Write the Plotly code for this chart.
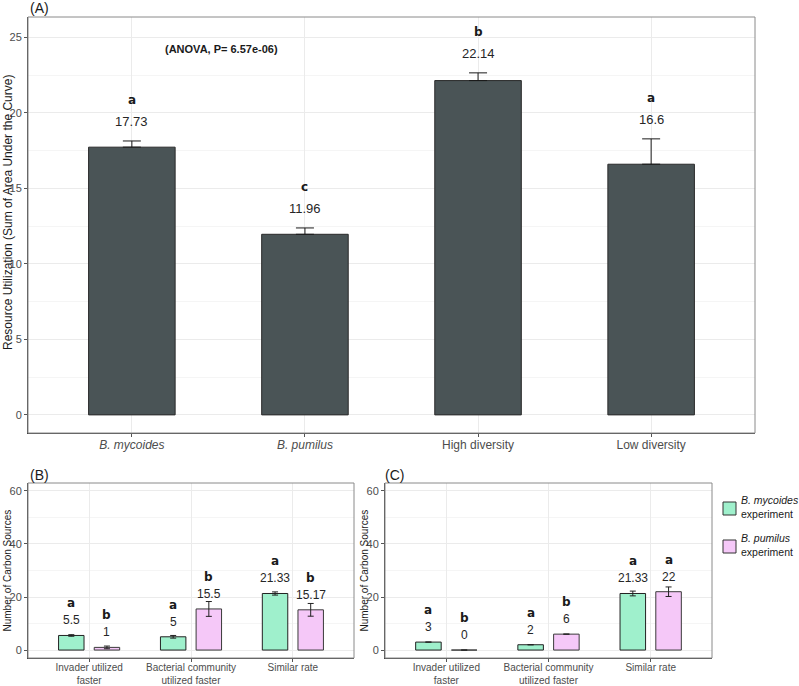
import plotly.graph_objects as go

# ---------------- data ----------------
a_cats = ["B. mycoides", "B. pumilus", "High diversity", "Low diversity"]
a_ticktext = ["<i>B. mycoides</i>", "<i>B. pumilus</i>", "High diversity", "Low diversity"]
a_means = [17.73, 11.96, 22.14, 16.6]
a_se = [0.41, 0.42, 0.51, 1.68]
a_letters = ["a", "c", "b", "a"]
a_labels = ["17.73", "11.96", "22.14", "16.6"]
anova_text = "(ANOVA, P= 6.57e-06)"

bc_cats = ["Invader utilized faster", "Bacterial community utilized faster", "Similar rate"]
bc_ticktext = ["Invader utilized<br>faster", "Bacterial community<br>utilized faster", "Similar rate"]

b_myc = [5.5, 5, 21.33]
b_myc_se = [0.3, 0.5, 0.6]
b_myc_lbl = ["5.5", "5", "21.33"]
b_myc_let = ["a", "a", "a"]
b_pum = [1, 15.5, 15.17]
b_pum_se = [0.5, 2.8, 2.4]
b_pum_lbl = ["1", "15.5", "15.17"]
b_pum_let = ["b", "b", "b"]

c_myc = [3, 2, 21.33]
c_myc_se = [0, 0, 0.9]
c_myc_lbl = ["3", "2", "21.33"]
c_myc_let = ["a", "a", "a"]
c_pum = [0, 6, 22]
c_pum_se = [0, 0, 1.8]
c_pum_lbl = ["0", "6", "22"]
c_pum_let = ["b", "b", "a"]

legend_names = ["B. mycoides", "B. pumilus"]
legend_sub = "experiment"

# ---------------- styles ----------------
W, H = 799, 686
BAR_DARK = "#4a5456"
GREEN = "#9ff0cc"
PINK = "#f5c8f8"
TICK_COL = "#4d4d4d"
GRID = "#ebebeb"
MINOR = "#f5f5f5"
FONT = "Liberation Sans, Arial, sans-serif"
BOLD_FONT = "DejaVu Sans, sans-serif"

def px_x(p):
    return p / W

def px_y(p):
    return 1 - p / H

domA_x = [px_x(28), px_x(755)]
domA_y = [px_y(433), px_y(17)]
domB_x = [px_x(28), px_x(354)]
domC_x = [px_x(385), px_x(712)]
domBC_y = [px_y(658), px_y(483)]

fig = go.Figure()

# Panel A
fig.add_trace(go.Bar(
    x=a_cats, y=a_means, width=0.5,
    marker=dict(color=BAR_DARK, line=dict(color="#2a2a2a", width=1)),
    error_y=dict(type="data", symmetric=False, array=a_se, arrayminus=[0] * len(a_se),
                 color="#1a1a1a", thickness=1, width=9),
    xaxis="x", yaxis="y", showlegend=False, hoverinfo="skip"))

# Panel B
fig.add_trace(go.Bar(
    x=bc_cats, y=b_myc, name=legend_names[0],
    marker=dict(color=GREEN, line=dict(color="#222222", width=1)),
    error_y=dict(type="data", array=b_myc_se, color="#222222", thickness=1, width=3),
    xaxis="x2", yaxis="y2", showlegend=False))
fig.add_trace(go.Bar(
    x=bc_cats, y=b_pum, name=legend_names[1],
    marker=dict(color=PINK, line=dict(color="#3a3a3a", width=1)),
    error_y=dict(type="data", array=b_pum_se, color="#222222", thickness=1, width=3),
    xaxis="x2", yaxis="y2", showlegend=False))

# Panel C
fig.add_trace(go.Bar(
    x=bc_cats, y=c_myc, name=legend_names[0],
    marker=dict(color=GREEN, line=dict(color="#222222", width=1)),
    error_y=dict(type="data", array=c_myc_se, color="#222222", thickness=1, width=3),
    xaxis="x3", yaxis="y3", showlegend=False))
fig.add_trace(go.Bar(
    x=bc_cats, y=c_pum, name=legend_names[1],
    marker=dict(color=PINK, line=dict(color="#3a3a3a", width=1)),
    error_y=dict(type="data", array=c_pum_se, color="#222222", thickness=1, width=3),
    xaxis="x3", yaxis="y3", showlegend=False))

ann = []
# Panel A labels
for i, (m, s) in enumerate(zip(a_means, a_se)):
    ann.append(dict(x=i, y=m + s, xref="x", yref="y", text=a_labels[i], showarrow=False,
                    yshift=19, yanchor="middle", font=dict(family=FONT, size=13, color="#262626")))
    ann.append(dict(x=i, y=m + s, xref="x", yref="y", text="<b>%s</b>" % a_letters[i], showarrow=False,
                    yshift=41, yanchor="middle", font=dict(family=BOLD_FONT, size=12, color="#1a1a1a")))
ann.append(dict(x=0.52, y=24.2, xref="x", yref="y", text="<b>%s</b>" % anova_text, showarrow=False,
                yanchor="middle", font=dict(family=FONT, size=11, color="#1a1a1a")))

def add_group_labels(xref, yref, vals, lbls, lets, off):
    for i, v in enumerate(vals):
        ann.append(dict(x=i + off, y=v, xref=xref, yref=yref, text=lbls[i], showarrow=False,
                        yshift=15, yanchor="middle", font=dict(family=FONT, size=12, color="#262626")))
        ann.append(dict(x=i + off, y=v, xref=xref, yref=yref, text="<b>%s</b>" % lets[i], showarrow=False,
                        yshift=32, yanchor="middle", font=dict(family=BOLD_FONT, size=12, color="#1a1a1a")))

add_group_labels("x2", "y2", b_myc, b_myc_lbl, b_myc_let, -0.175)
add_group_labels("x2", "y2", b_pum, b_pum_lbl, b_pum_let, 0.175)
add_group_labels("x3", "y3", c_myc, c_myc_lbl, c_myc_let, -0.175)
add_group_labels("x3", "y3", c_pum, c_pum_lbl, c_pum_let, 0.175)

# panel tags
for txt, xp, yp in [("(A)", 28, 8), ("(B)", 28, 475), ("(C)", 383, 475)]:
    ann.append(dict(x=px_x(xp), y=px_y(yp), xref="paper", yref="paper", text=txt, showarrow=False,
                    xanchor="left", yanchor="middle", font=dict(family=FONT, size=14, color="#1a1a1a")))

# y-axis titles
ann.append(dict(x=px_x(8), y=px_y(213), xref="paper", yref="paper",
                text="Resource Utilization (Sum of Area Under the Curve)", textangle=-90, showarrow=False,
                xanchor="center", yanchor="middle",
                font=dict(family=FONT, size=12, color="#1a1a1a")))
for xp in [7, 364]:
    ann.append(dict(x=px_x(xp), y=(domBC_y[0] + domBC_y[1]) / 2, xref="paper", yref="paper",
                    text="Number of Carbon Sources", textangle=-90, showarrow=False,
                    xanchor="center", yanchor="middle",
                    font=dict(family=FONT, size=10, color="#1a1a1a")))

shapes = []
for dx, dy in [(domA_x, domA_y), (domB_x, domBC_y), (domC_x, domBC_y)]:
    shapes.append(dict(type="rect", xref="paper", yref="paper", x0=dx[0], x1=dx[1], y0=dy[0], y1=dy[1],
                       line=dict(color="#8a8a8a", width=1), layer="above"))

# manual legend (keys + two-line labels)
for name, col, ytop in [(legend_names[0], GREEN, 502), (legend_names[1], PINK, 540)]:
    shapes.append(dict(type="rect", xref="paper", yref="paper", x0=px_x(723), x1=px_x(736),
                       y0=px_y(ytop + 13), y1=px_y(ytop), fillcolor=col,
                       line=dict(color="#333333", width=1)))
    ann.append(dict(x=px_x(739), y=px_y(ytop + 5), xref="paper", yref="paper",
                    text="<i>%s</i><br>%s" % (name, legend_sub), showarrow=False, align="left",
                    xanchor="left", yanchor="middle",
                    font=dict(family=FONT, size=10.5, color="#1a1a1a")))

tickfont = dict(family=FONT, size=11, color=TICK_COL)
common_x = dict(type="category", showgrid=True, gridcolor=GRID, ticks="outside", ticklen=3,
                tickcolor="#555555", showline=True, linecolor="#444444", zeroline=False,
                automargin=False)
common_y = dict(showgrid=True, gridcolor=GRID, ticks="outside", ticklen=3, tickcolor="#555555",
                showline=True, linecolor="#444444", zeroline=False, tickfont=tickfont,
                automargin=False)

fig.update_layout(
    width=W, height=H, margin=dict(l=0, r=0, t=0, b=0, pad=0, autoexpand=False),
    paper_bgcolor="white", plot_bgcolor="white",
    barmode="group", bargap=0.3, bargroupgap=0.286,
    font=dict(family=FONT),
    showlegend=False,
    xaxis=dict(domain=domA_x, anchor="y", range=[-0.6, 3.6], tickvals=a_cats, ticktext=a_ticktext,
               tickfont=dict(family=FONT, size=12, color=TICK_COL), ticklabelstandoff=-2, **common_x),
    yaxis=dict(domain=domA_y, anchor="x", range=[-1.2, 26.35], tickvals=[0, 5, 10, 15, 20, 25],
               minor=dict(showgrid=True, gridcolor=MINOR, dtick=2.5, tick0=0, ticks=""), **common_y),
    xaxis2=dict(domain=domB_x, anchor="y2", range=[-0.6, 2.6], tickvals=bc_cats, ticktext=bc_ticktext,
                tickfont=dict(family=FONT, size=10, color=TICK_COL), ticklabelstandoff=-3, **common_x),
    yaxis2=dict(domain=domBC_y, anchor="x2", range=[-3, 63], tickvals=[0, 20, 40, 60],
                minor=dict(showgrid=True, gridcolor=MINOR, dtick=10, tick0=0, ticks=""), **common_y),
    xaxis3=dict(domain=domC_x, anchor="y3", range=[-0.6, 2.6], tickvals=bc_cats, ticktext=bc_ticktext,
                tickfont=dict(family=FONT, size=10, color=TICK_COL), ticklabelstandoff=-3, **common_x),
    yaxis3=dict(domain=domBC_y, anchor="x3", range=[-3, 63], tickvals=[0, 20, 40, 60],
                minor=dict(showgrid=True, gridcolor=MINOR, dtick=10, tick0=0, ticks=""), **common_y),
    annotations=ann, shapes=shapes,
)

fig.write_html("out.html", config={"displayModeBar": False},
               post_script="document.body.style.margin='0';")
